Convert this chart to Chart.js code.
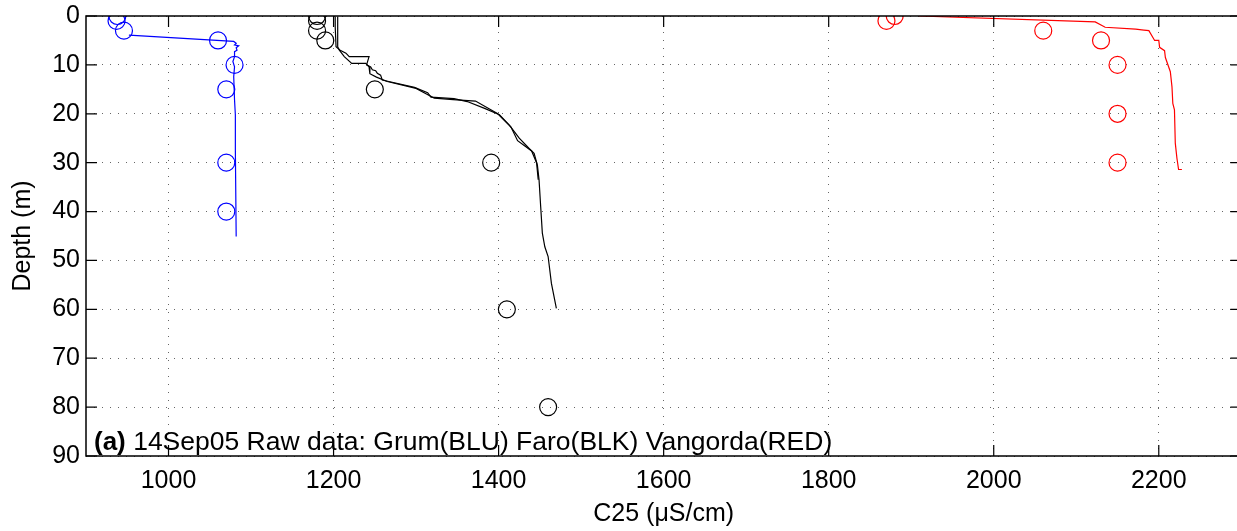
<!DOCTYPE html>
<html>
<head>
<meta charset="utf-8">
<script src="https://cdn.jsdelivr.net/npm/chart.js@4.4.1/dist/chart.umd.min.js"></script>
<style>
  html, body { margin: 0; padding: 0; background: #fff; overflow: hidden; }
  #wrap { width: 1237px; height: 531px; position: relative; overflow: hidden; }
  #profileChart { display: block; }
</style>
</head>
<body>
<div id="wrap"><canvas id="profileChart" width="1251" height="531"></canvas></div>
<script>
// ---- tick labels ----
const xTicks = [1000, 1200, 1400, 1600, 1800, 2000, 2200];
const yTicks = [0, 10, 20, 30, 40, 50, 60, 70, 80, 90];

// ---- bottle samples (C25, depth) ----
const grumSampleC25  = [938, 937, 946, 1060, 1080, 1070, 1070, 1070];
const grumSampleDep  = [0, 1, 3, 5, 10, 15, 30, 40];
const faroSampleC25  = [1180, 1180, 1180, 1190, 1250, 1391, 1410, 1460];
const faroSampleDep  = [0, 1, 3, 5, 15, 30, 60, 80];
const vangSampleC25  = [1880, 1870, 2060, 2130, 2150, 2150, 2150];
const vangSampleDep  = [0, 1, 3, 5, 10, 20, 30];

// ---- CTD profiles ----
const grumCtdC25 = [952, 1079, 1082, 1080, 1085, 1082, 1083, 1080, 1080, 1078, 1080, 1079, 1080, 1081, 1081, 1082];
const grumCtdDep = [3.9, 5.2, 5.6, 5.9, 6.1, 6.5, 7.0, 7.3, 8.3, 9.3, 10.4, 12.4, 17.2, 20.2, 27.4, 45.1];

const faroCtdC25 = [1202, 1202, 1203, 1208, 1215, 1219, 1243, 1240, 1245, 1247, 1251, 1253, 1257, 1259, 1267,
                    1298, 1314, 1318, 1346, 1362, 1383, 1401, 1413, 1425, 1437, 1443, 1447, 1449, 1451, 1453,
                    1456, 1460, 1464, 1470];
const faroCtdDep = [0.1, 2.2, 6.3, 7.0, 7.6, 8.3, 8.3, 10.0, 10.4, 11.0, 11.2, 11.7, 12.1, 13.1, 13.4,
                    14.6, 15.7, 16.6, 16.9, 17.5, 18.9, 20.2, 22.3, 25.0, 27.1, 28.1, 30.5, 33.5, 39.0, 44.4,
                    47.2, 49.2, 54.7, 59.8];
const faroCtd2C25 = [1205, 1205, 1207, 1213, 1222, 1239, 1243, 1244, 1252, 1265, 1300, 1312, 1322, 1345, 1372,
                     1399, 1415, 1423, 1440, 1446, 1448];
const faroCtd2Dep = [0.1, 6.3, 7.0, 8.3, 9.7, 9.7, 10.4, 11.8, 12.5, 13.4, 14.8, 15.9, 16.8, 17.1, 17.4,
                     20.0, 22.7, 25.5, 27.6, 30.0, 33.5];

const vangCtdC25 = [1909, 2123, 2135, 2172, 2182, 2188, 2195, 2200, 2201, 2207, 2208, 2214, 2216, 2217, 2219,
                    2220, 2222, 2224, 2228];
const vangCtdDep = [0, 1.2, 2.3, 2.7, 2.9, 3.0, 5.0, 5.0, 6.4, 7.1, 8.5, 11.4, 14.5, 17.9, 19.2,
                    26.0, 29.1, 31.4, 31.4];

const annotationBold = "(a)";
const annotationText = " 14Sep05 Raw data: Grum(BLU) Faro(BLK) Vangorda(RED)";

const FONT = "'Liberation Sans', Arial, Helvetica, sans-serif";

function pairs(xs, ys) {
    return xs.map((x, i) => ({ x: x, y: ys[i] }));
}

function profile(xs, ys, color) {
    return {
        data: pairs(xs, ys),
        showLine: true,
        borderColor: color,
        borderWidth: 1.2,
        pointRadius: 0,
        fill: false,
        tension: 0
    };
}

function samples(xs, ys, color) {
    return {
        data: pairs(xs, ys),
        showLine: false,
        borderColor: color,
        backgroundColor: "rgba(0,0,0,0)",
        pointStyle: "circle",
        pointRadius: 8.5,
        pointBorderWidth: 1.2
    };
}

// box, inward tick marks and the panel note
const framePlugin = {
    id: "frame",
    afterDraw(chart) {
        const ctx = chart.ctx;
        const a = chart.chartArea;
        const xs = chart.scales.x;
        const ys = chart.scales.y;
        const tl = 11;

        ctx.save();
        ctx.strokeStyle = "#000";
        ctx.lineWidth = 1.5;
        ctx.strokeRect(a.left, a.top, a.right - a.left, a.bottom - a.top);

        ctx.lineWidth = 1.2;
        ctx.beginPath();
        xTicks.forEach(v => {
            const px = xs.getPixelForValue(v);
            ctx.moveTo(px, a.bottom); ctx.lineTo(px, a.bottom - tl);
            ctx.moveTo(px, a.top); ctx.lineTo(px, a.top + tl);
        });
        yTicks.forEach(v => {
            const py = ys.getPixelForValue(v);
            ctx.moveTo(a.left, py); ctx.lineTo(a.left + tl, py);
            ctx.moveTo(a.right, py); ctx.lineTo(a.right - tl, py);
        });
        ctx.stroke();

        ctx.fillStyle = "#000";
        ctx.textBaseline = "alphabetic";
        ctx.textAlign = "left";
        ctx.font = "bold 26px " + FONT;
        const x0 = a.left + 8;
        const y0 = a.bottom - 6;
        ctx.fillText(annotationBold, x0, y0);
        const w = ctx.measureText(annotationBold).width;
        ctx.font = "26.5px " + FONT;
        ctx.fillText(annotationText, x0 + w, y0);
        ctx.restore();
    }
};

let ctx = document.getElementById("profileChart").getContext("2d");

let profileChart = new Chart(ctx, {

    type: "scatter",

    data: {
        datasets: [
            profile(grumCtdC25, grumCtdDep, "#0000ff"),
            profile(faroCtd2C25, faroCtd2Dep, "#000000"),
            profile(faroCtdC25, faroCtdDep, "#000000"),
            profile(vangCtdC25, vangCtdDep, "#ff0000"),
            samples(grumSampleC25, grumSampleDep, "#0000ff"),
            samples(faroSampleC25, faroSampleDep, "#000000"),
            samples(vangSampleC25, vangSampleDep, "#ff0000")
        ]
    },

    options: {
        responsive: false,
        animation: false,
        layout: {
            padding: { top: 16, right: 0, left: 0, bottom: 0 }
        },
        plugins: {
            legend: { display: false },
            tooltip: { enabled: false }
        },
        scales: {
            x: {
                type: "linear",
                min: 900,
                max: 2300,
                afterBuildTicks: s => { s.ticks = xTicks.map(v => ({ value: v })); },
                afterFit: s => { s.height = 75; s.paddingLeft = 0; s.paddingRight = 0; },
                grid: { color: "#666", lineWidth: 1, drawTicks: false },
                border: { display: false, dash: [1, 7] },
                ticks: {
                    color: "#000",
                    padding: 10,
                    maxRotation: 0,
                    callback: v => String(v),
                    font: { family: FONT, size: 25 }
                },
                title: {
                    display: true,
                    text: "C25 (μS/cm)",
                    color: "#000",
                    font: { family: FONT, size: 25 },
                    padding: { top: 0, bottom: 2 }
                }
            },
            y: {
                type: "linear",
                reverse: true,
                min: 0,
                max: 90,
                afterBuildTicks: s => { s.ticks = yTicks.map(v => ({ value: v })); },
                afterFit: s => { s.width = 86; s.paddingTop = 0; s.paddingBottom = 0; },
                grid: { color: "#666", lineWidth: 1, drawTicks: false },
                border: { display: false, dash: [1, 7] },
                ticks: {
                    color: "#000",
                    padding: 6,
                    callback: v => String(v),
                    font: { family: FONT, size: 25 }
                },
                title: {
                    display: true,
                    text: "Depth (m)",
                    color: "#000",
                    font: { family: FONT, size: 25 },
                    padding: { top: 8, bottom: 0 }
                }
            }
        }
    },

    plugins: [framePlugin]
});
</script>
</body>
</html>
